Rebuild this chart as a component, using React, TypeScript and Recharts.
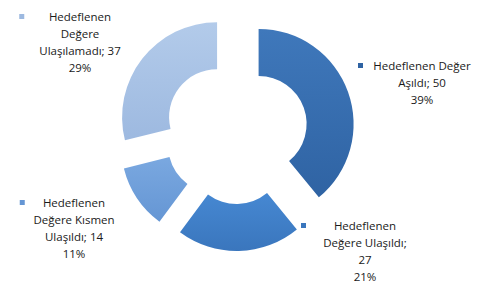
import React from 'react'
import { PieChart, Pie, Cell, Sector } from 'recharts'

const categories = [
  'Hedeflenen Değer Aşıldı',
  'Hedeflenen Değere Ulaşıldı',
  'Hedeflenen Değere Kısmen Ulaşıldı',
  'Hedeflenen Değere Ulaşılamadı',
]
const values = [50, 27, 14, 37]
const colorsTop = ['#3f78bb', '#4688d2', '#7aa8e0', '#b3cbea']
const colorsBottom = ['#2f63a3', '#3a76bd', '#6596d4', '#9db9e0']

// label block centre, relative to pie centre (layout only)
const labelOffsets = [
  { dx: 186, dy: -66 },
  { dx: 129, dy: 94 },
  { dx: -162, dy: 71 },
  { dx: -156, dy: -115 },
]

const data = categories.map((name, i) => ({ name, value: values[i] }))

const EXPLODE = 24
const RAD = Math.PI / 180
const LINE_H = 17
const CHAR_W = 6.5
const MAX_CHARS = 16

function wrap(text: string) {
  const words = text.split(' ')
  const lines: string[] = []
  let cur = ''
  words.forEach((w) => {
    const next = cur ? cur + ' ' + w : w
    if (next.length > MAX_CHARS && cur) {
      lines.push(cur)
      cur = w
    } else cur = next
  })
  if (cur) lines.push(cur)
  return lines
}

function ExplodedSector(props: any) {
  const { cx, cy, midAngle, innerRadius, outerRadius, startAngle, endAngle, fill } = props
  const dx = EXPLODE * Math.cos(-midAngle * RAD)
  const dy = EXPLODE * Math.sin(-midAngle * RAD)
  return (
    <Sector
      cx={cx + dx}
      cy={cy + dy}
      innerRadius={innerRadius}
      outerRadius={outerRadius}
      startAngle={startAngle}
      endAngle={endAngle}
      fill={fill}
      stroke="none"
    />
  )
}

function renderLabel(props: any) {
  const { cx, cy, index, name, value, percent } = props
  const off = labelOffsets[index]
  const x = cx + off.dx
  const y = cy + off.dy
  const lines = [...wrap(`${name}; ${value}`), `${Math.round(percent * 100)}%`]
  const maxLen = Math.max(...lines.map((l) => l.length))
  const left = x - (maxLen * CHAR_W) / 2
  return (
    <g>
      <rect x={left - 12} y={y - 3} width={5} height={5} fill={colorsBottom[index]} />
      {lines.map((l, i) => (
        <text
          key={i}
          x={x}
          y={y + i * LINE_H + 4}
          textAnchor="middle"
          fontFamily="'Open Sans', sans-serif"
          fontSize={11.5}
          fill="#1a1a1a"
        >
          {l}
        </text>
      ))}
    </g>
  )
}

export default function App() {
  return (
    <div style={{ position: 'absolute', left: 0, top: 0, background: '#fff' }}>
      <PieChart width={484} height={284} margin={{ top: 0, right: 0, bottom: 0, left: 0 }}>
        <defs>
          {colorsTop.map((c, i) => (
            <linearGradient key={i} id={`grad${i}`} x1="0" y1="0" x2="0" y2="1">
              <stop offset="0%" stopColor={c} />
              <stop offset="100%" stopColor={colorsBottom[i]} />
            </linearGradient>
          ))}
        </defs>
        <Pie
          data={data}
          dataKey="value"
          nameKey="name"
          cx={236}
          cy={132}
          innerRadius={48}
          outerRadius={95}
          startAngle={90}
          endAngle={-270}
          stroke="none"
          shape={ExplodedSector}
          label={renderLabel}
          labelLine={false}
          isAnimationActive={false}
        >
          {data.map((d, i) => (
            <Cell key={d.name} fill={`url(#grad${i})`} />
          ))}
        </Pie>
      </PieChart>
    </div>
  )
}
